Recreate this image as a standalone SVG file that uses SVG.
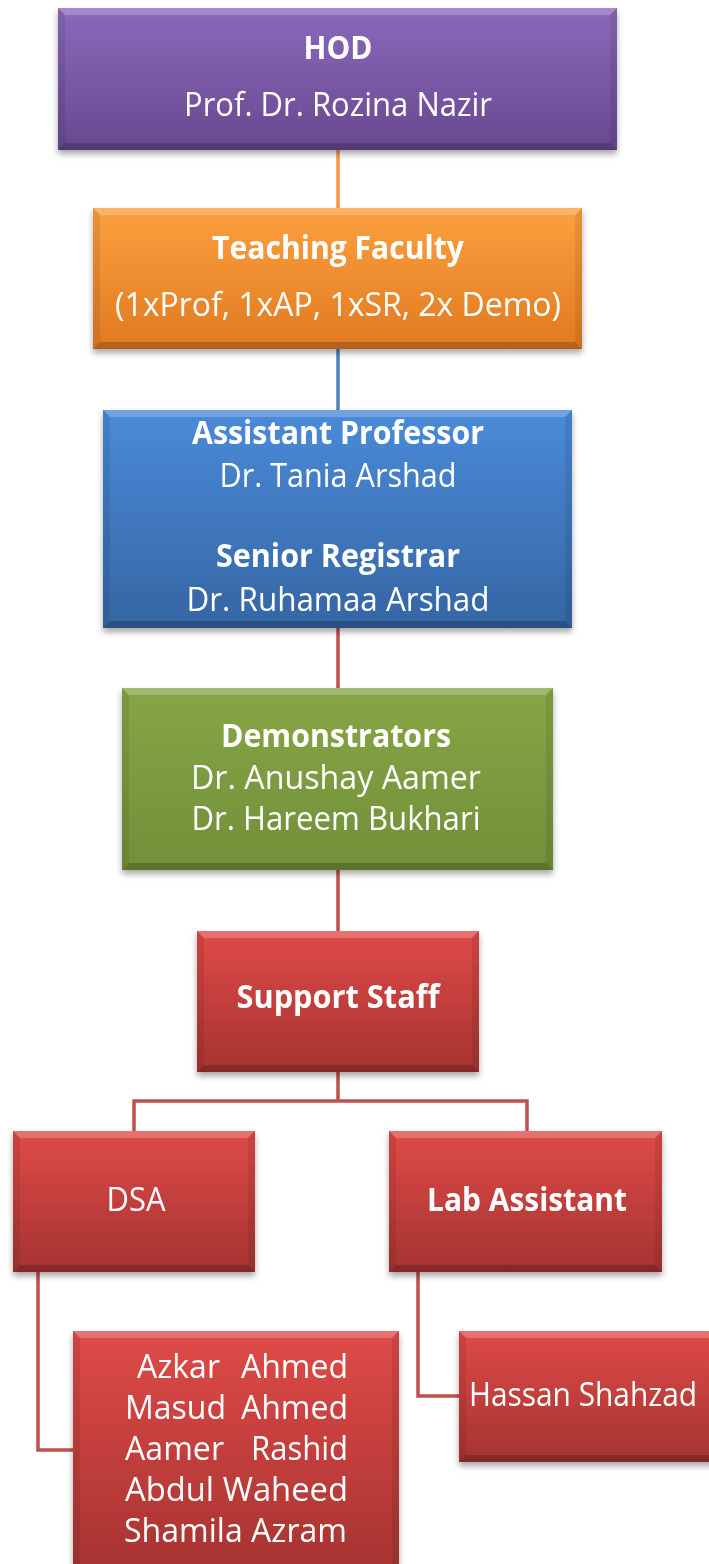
<svg xmlns="http://www.w3.org/2000/svg" width="709" height="1564" viewBox="0 0 709 1564">
<defs>
<filter id="sh" x="-10%" y="-10%" width="120%" height="130%"><feDropShadow dx="0" dy="4" stdDeviation="3" flood-color="#000" flood-opacity="0.35"/></filter>
<linearGradient id="gP" x1="0" y1="0" x2="0" y2="1"><stop offset="0" stop-color="#8b69bb"/><stop offset="1" stop-color="#684890"/></linearGradient>
<linearGradient id="gO" x1="0" y1="0" x2="0" y2="1"><stop offset="0" stop-color="#fca03e"/><stop offset="1" stop-color="#e07a22"/></linearGradient>
<linearGradient id="gB" x1="0" y1="0" x2="0" y2="1"><stop offset="0" stop-color="#4a8bd9"/><stop offset="1" stop-color="#3565a3"/></linearGradient>
<linearGradient id="gG" x1="0" y1="0" x2="0" y2="1"><stop offset="0" stop-color="#86a646"/><stop offset="1" stop-color="#728f39"/></linearGradient>
<linearGradient id="gR" x1="0" y1="0" x2="0" y2="1"><stop offset="0" stop-color="#df4a47"/><stop offset="1" stop-color="#a53331"/></linearGradient>
</defs>
<style>
.t{font-family:"Open Sans","Noto Sans","Liberation Sans",sans-serif;fill:#fff;font-size:32px;text-anchor:middle}
.b{font-weight:bold}
.hi{fill:#fff;opacity:0.22}
.lo{fill:#000;opacity:0.2}
.sd{fill:#000;opacity:0.08}
.c{fill:none;stroke-width:3.5}
</style>
<g id="connectors">
<path class="c" stroke="#f79646" d="M338 150V208"/>
<path class="c" stroke="#4f81bd" d="M338 349V410"/>
<path class="c" stroke="#c0504d" d="M338 628V688"/>
<path class="c" stroke="#c0504d" d="M338 870V931"/>
<path class="c" stroke="#c0504d" d="M338 1072V1101M134 1131V1101H527V1131"/>
<path class="c" stroke="#c0504d" d="M38 1272V1450H73"/>
<path class="c" stroke="#c0504d" d="M418 1272V1396H459"/>
</g>
<g id="hod" filter="url(#sh)">
<rect x="58" y="8" width="559" height="142" fill="url(#gP)"/>
<polygon class="hi" points="58,8 617,8 610,15 65,15"/>
<polygon class="lo" points="58,150 617,150 610,143 65,143"/>
<polygon class="sd" points="58,8 65,15 65,143 58,150"/>
<polygon class="sd" points="617,8 610,15 610,143 617,150"/>
<text class="t b" x="338" y="59" textLength="69" lengthAdjust="spacingAndGlyphs">HOD</text>
<text class="t" x="338" y="116" textLength="308" lengthAdjust="spacingAndGlyphs">Prof. Dr. Rozina Nazir</text>
</g>
<g id="teaching" filter="url(#sh)">
<rect x="93" y="208" width="489" height="141" fill="url(#gO)"/>
<polygon class="hi" points="93,208 582,208 575,215 100,215"/>
<polygon class="lo" points="93,349 582,349 575,342 100,342"/>
<polygon class="sd" points="93,208 100,215 100,342 93,349"/>
<polygon class="sd" points="582,208 575,215 575,342 582,349"/>
<text class="t b" x="338" y="259" textLength="252" lengthAdjust="spacingAndGlyphs">Teaching Faculty</text>
<text class="t" x="338" y="316" textLength="446" lengthAdjust="spacingAndGlyphs">(1xProf, 1xAP, 1xSR, 2x Demo)</text>
</g>
<g id="assistant" filter="url(#sh)">
<rect x="103" y="410" width="469" height="218" fill="url(#gB)"/>
<polygon class="hi" points="103,410 572,410 565,417 110,417"/>
<polygon class="lo" points="103,628 572,628 565,621 110,621"/>
<polygon class="sd" points="103,410 110,417 110,621 103,628"/>
<polygon class="sd" points="572,410 565,417 565,621 572,628"/>
<text class="t b" x="338" y="444" textLength="292" lengthAdjust="spacingAndGlyphs">Assistant Professor</text>
<text class="t" x="338" y="487" textLength="237" lengthAdjust="spacingAndGlyphs">Dr. Tania Arshad</text>
<text class="t b" x="338" y="567" textLength="244" lengthAdjust="spacingAndGlyphs">Senior Registrar</text>
<text class="t" x="338" y="611" textLength="303" lengthAdjust="spacingAndGlyphs">Dr. Ruhamaa Arshad</text>
</g>
<g id="demonstrators" filter="url(#sh)">
<rect x="122" y="688" width="431" height="182" fill="url(#gG)"/>
<polygon class="hi" points="122,688 553,688 546,695 129,695"/>
<polygon class="lo" points="122,870 553,870 546,863 129,863"/>
<polygon class="sd" points="122,688 129,695 129,863 122,870"/>
<polygon class="sd" points="553,688 546,695 546,863 553,870"/>
<text class="t b" x="336" y="747" textLength="230" lengthAdjust="spacingAndGlyphs">Demonstrators</text>
<text class="t" x="336" y="789" textLength="290" lengthAdjust="spacingAndGlyphs">Dr. Anushay Aamer</text>
<text class="t" x="336" y="830" textLength="289" lengthAdjust="spacingAndGlyphs">Dr. Hareem Bukhari</text>
</g>
<g id="support" filter="url(#sh)">
<rect x="197" y="931" width="282" height="141" fill="url(#gR)"/>
<polygon class="hi" points="197,931 479,931 472,938 204,938"/>
<polygon class="lo" points="197,1072 479,1072 472,1065 204,1065"/>
<polygon class="sd" points="197,931 204,938 204,1065 197,1072"/>
<polygon class="sd" points="479,931 472,938 472,1065 479,1072"/>
<text class="t b" x="338" y="1008" textLength="203" lengthAdjust="spacingAndGlyphs">Support Staff</text>
</g>
<g id="dsa" filter="url(#sh)">
<rect x="13" y="1131" width="242" height="141" fill="url(#gR)"/>
<polygon class="hi" points="13,1131 255,1131 248,1138 20,1138"/>
<polygon class="lo" points="13,1272 255,1272 248,1265 20,1265"/>
<polygon class="sd" points="13,1131 20,1138 20,1265 13,1272"/>
<polygon class="sd" points="255,1131 248,1138 248,1265 255,1272"/>
<text class="t" x="136" y="1211" textLength="59" lengthAdjust="spacingAndGlyphs">DSA</text>
</g>
<g id="lab" filter="url(#sh)">
<rect x="389" y="1131" width="273" height="141" fill="url(#gR)"/>
<polygon class="hi" points="389,1131 662,1131 655,1138 396,1138"/>
<polygon class="lo" points="389,1272 662,1272 655,1265 396,1265"/>
<polygon class="sd" points="389,1131 396,1138 396,1265 389,1272"/>
<polygon class="sd" points="662,1131 655,1138 655,1265 662,1272"/>
<text class="t b" x="527" y="1211" textLength="200" lengthAdjust="spacingAndGlyphs">Lab Assistant</text>
</g>
<g id="dsa-staff" filter="url(#sh)">
<rect x="73" y="1331" width="326" height="245" fill="url(#gR)"/>
<polygon class="hi" points="73,1331 399,1331 392,1338 80,1338"/>
<polygon class="sd" points="73,1331 80,1338 80,1576 73,1576"/>
<polygon class="sd" points="399,1331 392,1338 392,1576 399,1576"/>
<text class="t" x="137" y="1378" style="text-anchor:start" textLength="83" lengthAdjust="spacingAndGlyphs">Azkar</text>
<text class="t" x="348" y="1378" style="text-anchor:end" textLength="107" lengthAdjust="spacingAndGlyphs">Ahmed</text>
<text class="t" x="125" y="1419" style="text-anchor:start" textLength="101" lengthAdjust="spacingAndGlyphs">Masud</text>
<text class="t" x="348" y="1419" style="text-anchor:end" textLength="107" lengthAdjust="spacingAndGlyphs">Ahmed</text>
<text class="t" x="125" y="1460" style="text-anchor:start" textLength="99" lengthAdjust="spacingAndGlyphs">Aamer</text>
<text class="t" x="348" y="1460" style="text-anchor:end" textLength="97" lengthAdjust="spacingAndGlyphs">Rashid</text>
<text class="t" x="125" y="1501" style="text-anchor:start" textLength="223" lengthAdjust="spacingAndGlyphs">Abdul Waheed</text>
<text class="t" x="124" y="1542" style="text-anchor:start" textLength="223" lengthAdjust="spacingAndGlyphs">Shamila Azram</text>
</g>
<g id="lab-staff" filter="url(#sh)">
<rect x="459" y="1331" width="260" height="131" fill="url(#gR)"/>
<polygon class="hi" points="459,1331 719,1331 712,1338 466,1338"/>
<polygon class="lo" points="459,1462 719,1462 712,1455 466,1455"/>
<polygon class="sd" points="459,1331 466,1338 466,1455 459,1462"/>
<text class="t" x="469" y="1406" style="text-anchor:start" textLength="228" lengthAdjust="spacingAndGlyphs">Hassan Shahzad</text>
</g>
</svg>
